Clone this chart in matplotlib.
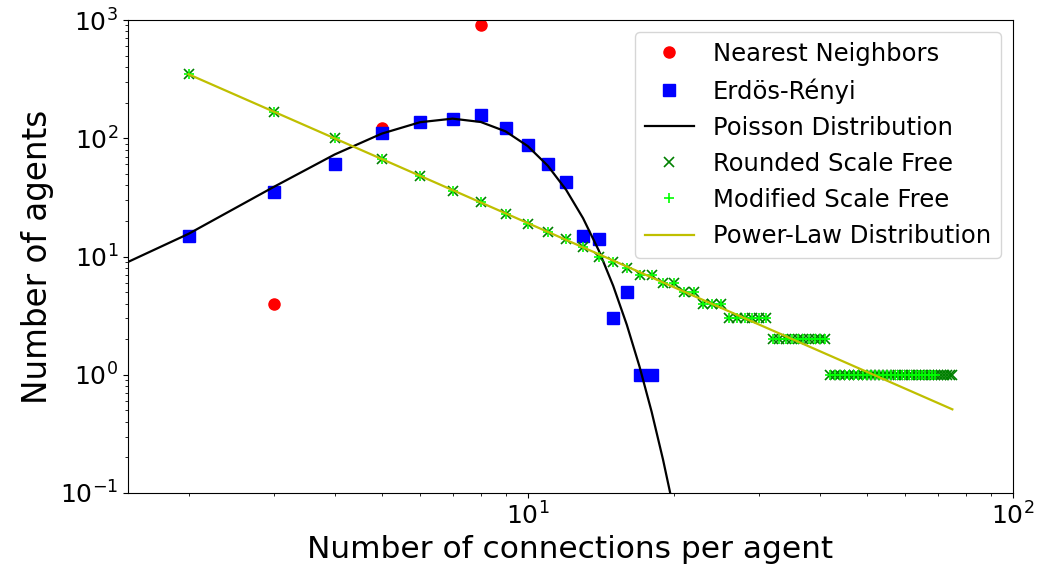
import matplotlib
matplotlib.use("Agg")
import matplotlib.pyplot as plt

# Nearest-neighbour lattice degree counts
nn_degree = [3, 5, 8]
nn_count = [4, 122, 900]

# Erdos-Renyi degree counts
er_degree = [2, 3, 4, 5, 6, 7, 8, 9, 10, 11, 12, 13, 14, 15, 16, 17, 18]
er_count = [15, 35, 60, 111, 138, 146, 156, 123, 87, 61, 43, 15, 14, 3, 5, 1, 1]

# Poisson reference curve (mean degree 7.5, 1000 agents)
poisson_degree = [1, 2, 3, 4, 5, 6, 7, 8, 9, 10, 11, 12, 13, 14, 15, 16, 17,
                  18, 19, 20, 21, 22]
poisson_count = [4.15, 15.56, 38.89, 72.92, 109.4, 136.7, 146.5, 137.3, 114.4,
                 85.83, 58.52, 36.57, 21.10, 11.30, 5.652, 2.649, 1.169, 0.487,
                 0.192, 0.0721, 0.0257, 0.00877]

# Scale-free degree counts
sf_degree = list(range(2, 76))
sf_rounded = ([347, 167, 100, 67, 48, 36, 29, 23, 19, 16, 14, 12, 10, 9, 8, 7,
               7, 6, 6, 5, 5, 4, 4, 4]
              + [3, 3, 3, 3, 3, 3]
              + [2, 2, 2, 2, 2, 2, 2, 2, 2, 2]
              + [1] * 34)
mod_degree = list(range(2, 70))
sf_modified = ([347, 167, 100, 67, 48, 36, 29, 23, 19, 16, 14, 12, 10, 9, 8, 7,
                7, 6, 6, 5, 5, 4, 4, 4]
               + [3, 3, 3, 3, 3, 3]
               + [2, 2, 2, 2, 2, 2, 2, 2, 2, 2]
               + [1] * 28)

# Power-law reference line end points
pl_degree = [2, 75]
pl_count = [347.5, 0.51]

fig = plt.figure(figsize=(10.43, 5.80), dpi=100)
ax = fig.add_axes([0.1227, 0.15, 0.8485, 0.8155])

ax.plot(nn_degree, nn_count, "o", color="red", ms=8, label="Nearest Neighbors")
ax.plot(er_degree, er_count, "s", color="blue", ms=8, label="Erdös-Rényi")
ax.plot(poisson_degree, poisson_count, "-", color="black", lw=1.6,
        label="Poisson Distribution")
ax.plot(sf_degree, sf_rounded, "x", color="green", ms=7, mew=1.2,
        label="Rounded Scale Free")
ax.plot(mod_degree, sf_modified, "+", color="lime", ms=7, mew=1.2,
        label="Modified Scale Free")
ax.plot(pl_degree, pl_count, "-", color=(0.75, 0.75, 0.0), lw=1.6,
        label="Power-Law Distribution")

ax.set_xscale("log")
ax.set_yscale("log")
ax.set_xlim(1.5, 100)
ax.set_ylim(0.1, 1000)

ax.set_xlabel("Number of connections per agent", fontsize=22.5)
ax.set_ylabel("Number of agents", fontsize=23.5)
ax.tick_params(axis="both", which="major", labelsize=18)

ax.legend(loc="upper right", fontsize=17.5, numpoints=1)

fig.savefig("out.png", dpi=100)
